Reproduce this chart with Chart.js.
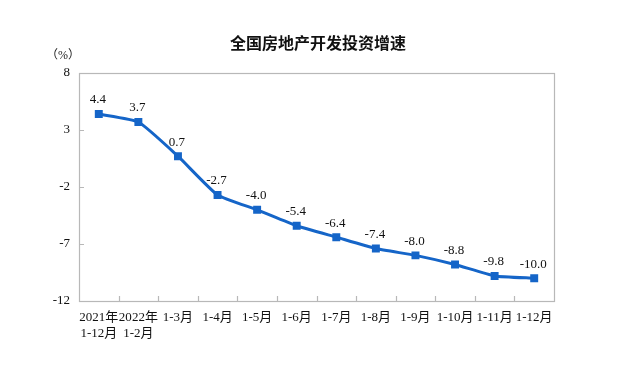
<!DOCTYPE html>
<html><head><meta charset="utf-8">
<script src="https://cdn.jsdelivr.net/npm/chart.js@4/dist/chart.umd.min.js"></script>
<style>
html,body{margin:0;padding:0;background:#fff;}
#wrap{position:relative;width:640px;height:368px;}
#title{position:absolute;left:0;width:636px;top:30px;text-align:center;font:bold 16px "Noto Sans CJK SC",sans-serif;color:#111;}
#unit{position:absolute;left:46px;top:45px;font:12px "Liberation Serif","Noto Sans CJK SC",serif;color:#222;}
canvas{position:absolute;left:0;top:0;}
</style></head><body>
<div id="wrap">
<canvas id="c" width="640" height="368"></canvas>
<div id="title">全国房地产开发投资增速</div>
<div id="unit">（%）</div>
</div>
<script>
const categories = [["2021年","1-12月"],["2022年","1-2月"],"1-3月","1-4月","1-5月","1-6月","1-7月","1-8月","1-9月","1-10月","1-11月","1-12月"];
const values = [4.4,3.7,0.7,-2.7,-4.0,-5.4,-6.4,-7.4,-8.0,-8.8,-9.8,-10.0];
const valueLabels = ["4.4","3.7","0.7","-2.7","-4.0","-5.4","-6.4","-7.4","-8.0","-8.8","-9.8","-10.0"];
const yTicks = [8,3,-2,-7,-12];

const serif = '"Liberation Serif","Noto Sans CJK SC",serif';
const frame = {
  id:'frame',
  afterDatasetsDraw(chart){
    const {ctx, chartArea:a, scales:{x,y}} = chart;
    ctx.save();
    ctx.strokeStyle='#b8b8b8'; ctx.lineWidth=1.2;
    ctx.strokeRect(a.left+0.5,a.top+0.5,a.right-a.left,a.bottom-a.top);
    ctx.beginPath();
    const n = categories.length;
    for(let i=1;i<n;i++){
      const px = (x.getPixelForValue(i-1)+x.getPixelForValue(i))/2;
      ctx.moveTo(Math.round(px)+0.5,a.bottom); ctx.lineTo(Math.round(px)+0.5,a.bottom-5);
    }
    yTicks.forEach(t=>{const py=Math.round(y.getPixelForValue(t))+0.5; ctx.moveTo(a.left,py); ctx.lineTo(a.left+5,py);});
    ctx.stroke();
    ctx.fillStyle='#111'; ctx.font='13px '+serif; ctx.textAlign='center'; ctx.textBaseline='middle';
    const meta = chart.getDatasetMeta(0);
    meta.data.forEach((p,i)=>{ ctx.fillText(valueLabels[i], p.x-1, p.y-14); });
    ctx.restore();
  }
};

new Chart(document.getElementById('c'),{
  type:'line',
  data:{labels:categories,datasets:[{data:values,borderColor:'#1565c8',backgroundColor:'#1565c8',borderWidth:3,
    pointStyle:'rect',pointRadius:3.5,pointHoverRadius:3.5,tension:0.15}]},
  options:{
    responsive:false,animation:false,events:[],
    layout:{padding:{left:0,right:86,top:73,bottom:0}},
    plugins:{legend:{display:false},tooltip:{enabled:false},title:{display:false}},
    scales:{
      x:{offset:true,grid:{display:false,drawTicks:false},border:{display:false},
        ticks:{color:'#111',font:{family:serif,size:13},padding:9,maxRotation:0,autoSkip:false},
        afterFit(s){s.height=67;}},
      y:{min:-12,max:8,grid:{display:false,drawTicks:false},border:{display:false},
        afterBuildTicks(s){s.ticks=yTicks.map(v=>({value:v}));},
        ticks:{color:'#111',font:{family:serif,size:13},padding:9},
        afterFit(s){s.width=79;}}
    }
  },
  plugins:[frame]
});
</script>
</body></html>
